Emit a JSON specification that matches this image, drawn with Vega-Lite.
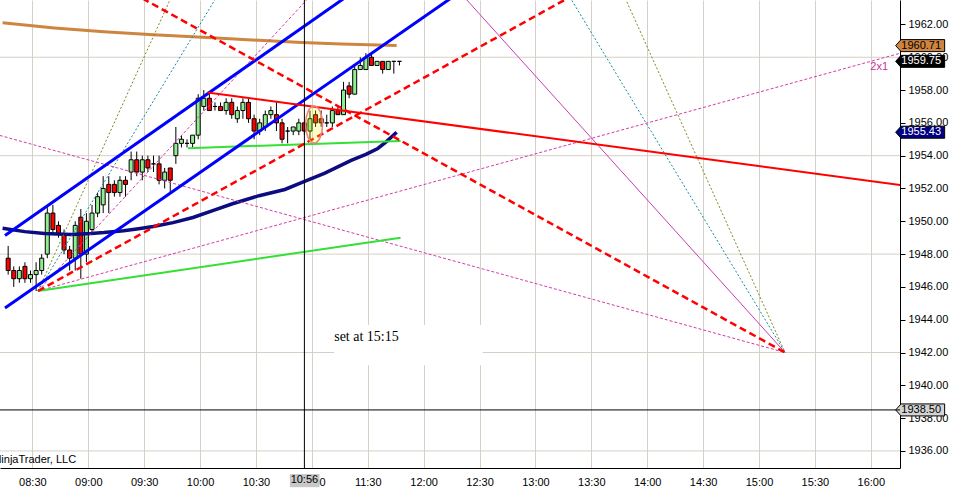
{
  "$schema": "https://vega.github.io/schema/vega-lite/v6.json",
  "width": 900,
  "height": 468,
  "autosize": {"type": "none"},
  "padding": {"left": 0, "top": 0, "right": 65, "bottom": 27},
  "background": "white",
  "config": {"view": {"stroke": null}, "font": "Liberation Sans"},
  "datasets": {
    "candles": [
      {"t": "2014-06-02T08:17", "o": 1947.75, "h": 1948.5, "l": 1946.75, "c": 1947.0},
      {"t": "2014-06-02T08:20", "o": 1947.0, "h": 1947.25, "l": 1946.0, "c": 1946.5},
      {"t": "2014-06-02T08:23", "o": 1946.5, "h": 1947.25, "l": 1946.25, "c": 1947.0},
      {"t": "2014-06-02T08:26", "o": 1947.25, "h": 1947.5, "l": 1946.25, "c": 1946.5},
      {"t": "2014-06-02T08:29", "o": 1946.5, "h": 1947.0, "l": 1946.25, "c": 1946.75},
      {"t": "2014-06-02T08:32", "o": 1946.75, "h": 1947.5, "l": 1945.75, "c": 1947.0},
      {"t": "2014-06-02T08:35", "o": 1947.0, "h": 1948.0, "l": 1946.75, "c": 1947.75},
      {"t": "2014-06-02T08:38", "o": 1948.0, "h": 1951.0, "l": 1947.75, "c": 1950.5},
      {"t": "2014-06-02T08:41", "o": 1950.5, "h": 1951.0, "l": 1949.25, "c": 1949.5},
      {"t": "2014-06-02T08:44", "o": 1949.75, "h": 1950.0, "l": 1949.0, "c": 1949.25},
      {"t": "2014-06-02T08:47", "o": 1949.25, "h": 1949.5, "l": 1948.0, "c": 1948.25},
      {"t": "2014-06-02T08:50", "o": 1948.25, "h": 1948.5, "l": 1947.0, "c": 1947.75},
      {"t": "2014-06-02T08:53", "o": 1947.75, "h": 1950.0, "l": 1947.0, "c": 1949.75},
      {"t": "2014-06-02T08:56", "o": 1950.25, "h": 1950.75, "l": 1946.5, "c": 1948.0},
      {"t": "2014-06-02T08:59", "o": 1948.0, "h": 1950.5, "l": 1947.5, "c": 1950.0},
      {"t": "2014-06-02T09:02", "o": 1949.5, "h": 1951.0, "l": 1949.25, "c": 1950.5},
      {"t": "2014-06-02T09:05", "o": 1950.5, "h": 1951.75, "l": 1950.25, "c": 1951.5},
      {"t": "2014-06-02T09:08", "o": 1951.0, "h": 1952.75, "l": 1950.5, "c": 1952.0},
      {"t": "2014-06-02T09:11", "o": 1952.25, "h": 1952.75, "l": 1950.5, "c": 1951.75},
      {"t": "2014-06-02T09:14", "o": 1952.25, "h": 1952.5, "l": 1951.5, "c": 1951.75},
      {"t": "2014-06-02T09:17", "o": 1951.75, "h": 1952.75, "l": 1951.5, "c": 1952.5},
      {"t": "2014-06-02T09:20", "o": 1952.5, "h": 1952.75, "l": 1951.5, "c": 1952.25},
      {"t": "2014-06-02T09:23", "o": 1953.0, "h": 1954.25, "l": 1952.5, "c": 1953.75},
      {"t": "2014-06-02T09:26", "o": 1953.75, "h": 1954.25, "l": 1952.75, "c": 1953.0},
      {"t": "2014-06-02T09:29", "o": 1953.0, "h": 1954.0, "l": 1952.5, "c": 1953.75},
      {"t": "2014-06-02T09:32", "o": 1953.75, "h": 1954.0, "l": 1953.0, "c": 1953.25},
      {"t": "2014-06-02T09:35", "o": 1953.5, "h": 1954.0, "l": 1953.0, "c": 1953.5},
      {"t": "2014-06-02T09:38", "o": 1953.5, "h": 1954.0, "l": 1952.25, "c": 1952.5},
      {"t": "2014-06-02T09:41", "o": 1952.5, "h": 1953.25, "l": 1952.0, "c": 1953.0},
      {"t": "2014-06-02T09:44", "o": 1953.25, "h": 1953.25, "l": 1951.75, "c": 1952.5},
      {"t": "2014-06-02T09:47", "o": 1954.0, "h": 1955.75, "l": 1953.5, "c": 1954.75},
      {"t": "2014-06-02T09:50", "o": 1954.75, "h": 1955.25, "l": 1954.5, "c": 1955.0},
      {"t": "2014-06-02T09:53", "o": 1954.75, "h": 1955.0, "l": 1954.5, "c": 1954.75},
      {"t": "2014-06-02T09:56", "o": 1954.75, "h": 1955.25, "l": 1954.5, "c": 1955.25},
      {"t": "2014-06-02T09:59", "o": 1955.25, "h": 1957.75, "l": 1955.0, "c": 1957.5},
      {"t": "2014-06-02T10:02", "o": 1957.0, "h": 1958.0, "l": 1956.75, "c": 1957.5},
      {"t": "2014-06-02T10:05", "o": 1957.5, "h": 1957.75, "l": 1956.75, "c": 1956.75},
      {"t": "2014-06-02T10:08", "o": 1957.0, "h": 1957.25, "l": 1956.75, "c": 1957.0},
      {"t": "2014-06-02T10:11", "o": 1957.0, "h": 1957.25, "l": 1956.75, "c": 1956.75},
      {"t": "2014-06-02T10:14", "o": 1956.75, "h": 1957.5, "l": 1956.5, "c": 1957.25},
      {"t": "2014-06-02T10:17", "o": 1957.25, "h": 1957.5, "l": 1956.25, "c": 1956.5},
      {"t": "2014-06-02T10:20", "o": 1956.25, "h": 1957.0, "l": 1956.0, "c": 1956.75},
      {"t": "2014-06-02T10:23", "o": 1956.75, "h": 1957.5, "l": 1956.25, "c": 1957.25},
      {"t": "2014-06-02T10:26", "o": 1957.25, "h": 1957.5, "l": 1956.0, "c": 1956.25},
      {"t": "2014-06-02T10:29", "o": 1956.25, "h": 1956.5, "l": 1955.0, "c": 1955.5},
      {"t": "2014-06-02T10:32", "o": 1955.5, "h": 1956.25, "l": 1955.25, "c": 1956.0},
      {"t": "2014-06-02T10:35", "o": 1955.75, "h": 1956.75, "l": 1955.5, "c": 1956.5},
      {"t": "2014-06-02T10:38", "o": 1956.5, "h": 1957.0, "l": 1956.25, "c": 1956.75},
      {"t": "2014-06-02T10:41", "o": 1956.5, "h": 1957.25, "l": 1955.5, "c": 1956.0},
      {"t": "2014-06-02T10:44", "o": 1956.0, "h": 1956.25, "l": 1954.75, "c": 1955.0},
      {"t": "2014-06-02T10:47", "o": 1955.5, "h": 1955.75, "l": 1954.75, "c": 1955.5},
      {"t": "2014-06-02T10:50", "o": 1955.5, "h": 1955.75, "l": 1955.25, "c": 1955.75},
      {"t": "2014-06-02T10:53", "o": 1955.5, "h": 1956.25, "l": 1955.25, "c": 1956.0},
      {"t": "2014-06-02T10:56", "o": 1956.0, "h": 1956.0, "l": 1955.25, "c": 1955.5},
      {"t": "2014-06-02T10:59", "o": 1955.5, "h": 1956.75, "l": 1955.0, "c": 1956.25},
      {"t": "2014-06-02T11:02", "o": 1956.5, "h": 1956.75, "l": 1955.75, "c": 1956.0},
      {"t": "2014-06-02T11:05", "o": 1956.25, "h": 1956.75, "l": 1955.75, "c": 1956.0},
      {"t": "2014-06-02T11:08", "o": 1956.0, "h": 1956.5, "l": 1955.75, "c": 1956.0},
      {"t": "2014-06-02T11:11", "o": 1956.0, "h": 1957.0, "l": 1955.75, "c": 1956.75},
      {"t": "2014-06-02T11:14", "o": 1956.75, "h": 1957.0, "l": 1956.5, "c": 1956.5},
      {"t": "2014-06-02T11:17", "o": 1956.5, "h": 1958.5, "l": 1956.5, "c": 1958.0},
      {"t": "2014-06-02T11:20", "o": 1958.25, "h": 1958.5, "l": 1957.5, "c": 1957.75},
      {"t": "2014-06-02T11:23", "o": 1957.75, "h": 1959.5, "l": 1957.75, "c": 1959.25},
      {"t": "2014-06-02T11:26", "o": 1959.25, "h": 1960.0, "l": 1959.25, "c": 1959.5},
      {"t": "2014-06-02T11:29", "o": 1959.25, "h": 1960.25, "l": 1959.25, "c": 1960.0},
      {"t": "2014-06-02T11:32", "o": 1960.0, "h": 1960.25, "l": 1959.5, "c": 1959.5},
      {"t": "2014-06-02T11:35", "o": 1959.5, "h": 1959.75, "l": 1959.5, "c": 1959.75},
      {"t": "2014-06-02T11:38", "o": 1959.75, "h": 1959.75, "l": 1959.0, "c": 1959.25},
      {"t": "2014-06-02T11:41", "o": 1959.25, "h": 1959.75, "l": 1959.25, "c": 1959.75},
      {"t": "2014-06-02T11:44", "o": 1959.75, "h": 1959.75, "l": 1959.0, "c": 1959.75},
      {"t": "2014-06-02T11:47", "o": 1959.75, "h": 1959.75, "l": 1959.5, "c": 1959.75}
    ],
    "ma": [
      {"s": "sma", "t": "2014-06-02T08:14:00", "p": 1962.1},
      {"s": "sma", "t": "2014-06-02T08:41:48", "p": 1961.79},
      {"s": "sma", "t": "2014-06-02T09:08:24", "p": 1961.56},
      {"s": "sma", "t": "2014-06-02T09:34:54", "p": 1961.37},
      {"s": "sma", "t": "2014-06-02T10:01:30", "p": 1961.22},
      {"s": "sma", "t": "2014-06-02T10:28:00", "p": 1961.05},
      {"s": "sma", "t": "2014-06-02T10:54:30", "p": 1960.9},
      {"s": "sma", "t": "2014-06-02T11:15:48", "p": 1960.81},
      {"s": "sma", "t": "2014-06-02T11:45:30", "p": 1960.71},
      {"s": "ema", "t": "2014-06-02T08:14:00", "p": 1949.57},
      {"s": "ema", "t": "2014-06-02T08:25:54", "p": 1949.37},
      {"s": "ema", "t": "2014-06-02T08:36:30", "p": 1949.25},
      {"s": "ema", "t": "2014-06-02T08:50:54", "p": 1949.19},
      {"s": "ema", "t": "2014-06-02T09:01:30", "p": 1949.25},
      {"s": "ema", "t": "2014-06-02T09:08:24", "p": 1949.31},
      {"s": "ema", "t": "2014-06-02T09:19:00", "p": 1949.43},
      {"s": "ema", "t": "2014-06-02T09:27:00", "p": 1949.55},
      {"s": "ema", "t": "2014-06-02T09:34:54", "p": 1949.68},
      {"s": "ema", "t": "2014-06-02T09:45:30", "p": 1949.92},
      {"s": "ema", "t": "2014-06-02T09:56:12", "p": 1950.23},
      {"s": "ema", "t": "2014-06-02T10:06:48", "p": 1950.65},
      {"s": "ema", "t": "2014-06-02T10:17:24", "p": 1951.07},
      {"s": "ema", "t": "2014-06-02T10:31:42", "p": 1951.56},
      {"s": "ema", "t": "2014-06-02T10:45:30", "p": 1951.94},
      {"s": "ema", "t": "2014-06-02T10:56:06", "p": 1952.43},
      {"s": "ema", "t": "2014-06-02T11:06:42", "p": 1952.92},
      {"s": "ema", "t": "2014-06-02T11:21:06", "p": 1953.71},
      {"s": "ema", "t": "2014-06-02T11:29:00", "p": 1954.08},
      {"s": "ema", "t": "2014-06-02T11:35:24", "p": 1954.44},
      {"s": "ema", "t": "2014-06-02T11:40:12", "p": 1954.87},
      {"s": "ema", "t": "2014-06-02T11:45:30", "p": 1955.43}
    ],
    "lines": [
      {"id": "blueU", "g": "blue", "t": "2014-06-02T08:15:18", "p": 1949.13},
      {"id": "blueU", "g": "blue", "t": "2014-06-02T11:47:36", "p": 1966.0},
      {"id": "blueL", "g": "blue", "t": "2014-06-02T08:15:18", "p": 1944.72},
      {"id": "blueL", "g": "blue", "t": "2014-06-02T12:30:06", "p": 1964.82},
      {"id": "redA", "g": "reddash", "t": "2014-06-02T09:08:24", "p": 1964.88},
      {"id": "redA", "g": "reddash", "t": "2014-06-02T15:14:00", "p": 1942.0},
      {"id": "redB", "g": "reddash", "t": "2014-06-02T08:33:00", "p": 1945.75},
      {"id": "redB", "g": "reddash", "t": "2014-06-02T13:33:48", "p": 1964.63},
      {"id": "redS", "g": "redsolid", "t": "2014-06-02T10:04:00", "p": 1957.85},
      {"id": "redS", "g": "redsolid", "t": "2014-06-02T16:30:00", "p": 1952.0},
      {"id": "greenU", "g": "green", "t": "2014-06-02T09:53:30", "p": 1954.46},
      {"id": "greenU", "g": "green", "t": "2014-06-02T11:47:36", "p": 1954.89},
      {"id": "greenL", "g": "green", "t": "2014-06-02T08:33:00", "p": 1945.75},
      {"id": "greenL", "g": "green", "t": "2014-06-02T11:47:36", "p": 1949.0},
      {"id": "pinkSteep", "g": "pinkdot", "t": "2014-06-02T08:33:00", "p": 1945.75},
      {"id": "pinkSteep", "g": "pinkdot", "t": "2014-06-02T11:07:06", "p": 1964.71},
      {"id": "pink2x1", "g": "pinkdot", "t": "2014-06-02T08:33:00", "p": 1945.75},
      {"id": "pink2x1", "g": "pinkdot", "t": "2014-06-02T16:23:36", "p": 1960.49},
      {"id": "pinkDown", "g": "pinkdot", "t": "2014-06-02T08:04:42", "p": 1955.48},
      {"id": "pinkDown", "g": "pinkdot", "t": "2014-06-02T15:14:00", "p": 1942.0},
      {"id": "pinkApex", "g": "pinksolid", "t": "2014-06-02T15:14:00", "p": 1942.0},
      {"id": "pinkApex", "g": "pinksolid", "t": "2014-06-02T12:13:30", "p": 1964.71},
      {"id": "tealO", "g": "teal", "t": "2014-06-02T08:33:00", "p": 1945.75},
      {"id": "tealO", "g": "teal", "t": "2014-06-02T10:14:24", "p": 1964.71},
      {"id": "tealA", "g": "teal", "t": "2014-06-02T15:14:00", "p": 1942.0},
      {"id": "tealA", "g": "teal", "t": "2014-06-02T13:12:54", "p": 1964.71},
      {"id": "oliveO", "g": "olive", "t": "2014-06-02T08:33:00", "p": 1945.75},
      {"id": "oliveO", "g": "olive", "t": "2014-06-02T09:48:42", "p": 1964.71},
      {"id": "oliveA", "g": "olive", "t": "2014-06-02T15:14:00", "p": 1942.0},
      {"id": "oliveA", "g": "olive", "t": "2014-06-02T13:43:48", "p": 1964.71}
    ],
    "notes": [
      {"k": "box", "t": "2014-06-02T11:12:00", "p": 1942.7, "label": "set at 15:15"},
      {"k": "fan", "t": "2014-06-02T16:04:30", "p": 1959.4, "label": "2x1"},
      {"k": "copy", "t": "2014-06-02T08:53:30", "p": 1935.26, "label": "© 2014 NinjaTrader, LLC"},
      {"k": "cursor", "t": "2014-06-02T10:56:00", "p": 1934.2, "label": "10:56"},
      {"k": "cursorline", "t": "2014-06-02T10:56:00", "p": 1938.5, "label": ""},
      {"k": "ellipse", "t": "2014-06-02T11:01:12", "p": 1955.9, "label": ""}
    ],
    "boxes": [
      {"k": "white", "t1": "2014-06-02T11:12:00", "t2": "2014-06-02T12:31:42", "p1": 1943.67, "p2": 1941.23},
      {"k": "gray", "t1": "2014-06-02T10:48:12", "t2": "2014-06-02T11:04:06", "p1": 1934.59, "p2": 1933.79}
    ],
    "hgrid": [{"p": 1936}, {"p": 1942}, {"p": 1948}, {"p": 1954}, {"p": 1960}],
    "tags": [
      {"name": "sma", "t": "2014-06-02T16:26:30", "p": 1960.71, "label": "1960.71"},
      {"name": "last", "t": "2014-06-02T16:26:30", "p": 1959.75, "label": "1959.75"},
      {"name": "ema", "t": "2014-06-02T16:26:30", "p": 1955.43, "label": "1955.43"},
      {"name": "cursor", "t": "2014-06-02T16:26:30", "p": 1938.5, "label": "1938.50"}
    ]
  },
  "layer": [
    {
      "data": {"name": "hgrid"},
      "mark": {"type": "rule", "color": "#D4D0C8", "strokeWidth": 1},
      "encoding": {
        "y": {"field": "p", "type": "quantitative", "axis": {"orient": "right", "title": null, "zindex": 0, "values": [1936, 1938, 1940, 1942, 1944, 1946, 1948, 1950, 1952, 1954, 1956, 1958, 1960, 1962], "format": ".2f", "grid": false, "tickSize": 5, "tickColor": "black", "domainColor": "black", "labelFontSize": 11, "labelColor": "black", "labelPadding": 3, "labelOverlap": false}}
      }
    },
    {
      "encoding": {
        "x": {
          "field": "t", "type": "temporal",
          "scale": {"domain": [{"year": 2014, "month": 6, "date": 2, "hours": 8, "minutes": 15, "seconds": 18}, {"year": 2014, "month": 6, "date": 2, "hours": 16, "minutes": 13, "seconds": 0}], "nice": false},
          "axis": {"title": null, "orient": "bottom", "zindex": 0, "format": "%H:%M", "tickCount": 15, "grid": true, "gridColor": "#D4D0C8", "ticks": false, "domainColor": "black", "labelFontSize": 11, "labelColor": "black", "labelPadding": 8, "labelOverlap": false}
        },
        "y": {
          "field": "p", "type": "quantitative",
          "scale": {"domain": [1934.96, 1963.49], "nice": false, "zero": false},
          "axis": {"orient": "right", "title": null, "zindex": 0, "values": [1936, 1938, 1940, 1942, 1944, 1946, 1948, 1950, 1952, 1954, 1956, 1958, 1960, 1962], "format": ".2f", "grid": false, "tickSize": 5, "tickColor": "black", "domainColor": "black", "labelFontSize": 11, "labelColor": "black", "labelPadding": 3, "labelOverlap": false}
        }
      },
      "layer": [
        {
          "data": {"name": "boxes"},
          "transform": [{"filter": "datum.k === 'white'"}],
          "mark": {"type": "rect", "fill": "white"},
          "encoding": {
            "x": {"field": "t1", "type": "temporal", "axis": {"title": null, "orient": "bottom", "zindex": 0, "format": "%H:%M", "tickCount": 15, "grid": true, "gridColor": "#D4D0C8", "ticks": false, "domainColor": "black", "labelFontSize": 11, "labelColor": "black", "labelPadding": 8, "labelOverlap": false}},
            "x2": {"field": "t2"},
            "y": {"field": "p1", "type": "quantitative", "axis": {"orient": "right", "title": null, "zindex": 0, "values": [1936, 1938, 1940, 1942, 1944, 1946, 1948, 1950, 1952, 1954, 1956, 1958, 1960, 1962], "format": ".2f", "grid": false, "tickSize": 5, "tickColor": "black", "domainColor": "black", "labelFontSize": 11, "labelColor": "black", "labelPadding": 3, "labelOverlap": false}},
            "y2": {"field": "p2"}
          }
        },
        {
          "data": {"name": "candles"},
          "mark": {"type": "rule", "color": "black", "strokeWidth": 1},
          "encoding": {
            "y": {"field": "l", "type": "quantitative", "axis": {"orient": "right", "title": null, "zindex": 0, "values": [1936, 1938, 1940, 1942, 1944, 1946, 1948, 1950, 1952, 1954, 1956, 1958, 1960, 1962], "format": ".2f", "grid": false, "tickSize": 5, "tickColor": "black", "domainColor": "black", "labelFontSize": 11, "labelColor": "black", "labelPadding": 3, "labelOverlap": false}},
            "y2": {"field": "h"}
          }
        },
        {
          "data": {"name": "candles"},
          "mark": {"type": "bar", "size": 4, "stroke": "black", "strokeWidth": 1},
          "encoding": {
            "y": {"field": "o", "type": "quantitative", "axis": {"orient": "right", "title": null, "zindex": 0, "values": [1936, 1938, 1940, 1942, 1944, 1946, 1948, 1950, 1952, 1954, 1956, 1958, 1960, 1962], "format": ".2f", "grid": false, "tickSize": 5, "tickColor": "black", "domainColor": "black", "labelFontSize": 11, "labelColor": "black", "labelPadding": 3, "labelOverlap": false}},
            "y2": {"field": "c"},
            "fill": {"condition": {"test": "datum.c > datum.o", "value": "#90EE90"}, "value": "#FF0000"}
          }
        },
        {
          "data": {"name": "ma"},
          "transform": [{"filter": "datum.s === 'sma'"}],
          "mark": {"type": "line", "clip": true, "color": "#CD853F", "strokeWidth": 3}
        },
        {
          "data": {"name": "ma"},
          "transform": [{"filter": "datum.s === 'ema'"}],
          "mark": {"type": "line", "clip": true, "color": "#0C0C80", "strokeWidth": 3.5}
        },
        {
          "data": {"name": "lines"},
          "transform": [{"filter": "datum.g === 'olive'"}],
          "mark": {"type": "line", "clip": true, "color": "#7A8A1E", "strokeWidth": 1, "strokeDash": [2, 2]},
          "encoding": {"detail": {"field": "id"}}
        },
        {
          "data": {"name": "lines"},
          "transform": [{"filter": "datum.g === 'teal'"}],
          "mark": {"type": "line", "clip": true, "color": "#108C9C", "strokeWidth": 1, "strokeDash": [2, 2]},
          "encoding": {"detail": {"field": "id"}}
        },
        {
          "data": {"name": "lines"},
          "transform": [{"filter": "datum.g === 'pinkdot'"}],
          "mark": {"type": "line", "clip": true, "color": "#D63AA8", "strokeWidth": 1, "strokeDash": [3, 2]},
          "encoding": {"detail": {"field": "id"}}
        },
        {
          "data": {"name": "lines"},
          "transform": [{"filter": "datum.g === 'pinksolid'"}],
          "mark": {"type": "line", "clip": true, "color": "#C83CB4", "strokeWidth": 1},
          "encoding": {"detail": {"field": "id"}}
        },
        {
          "data": {"name": "lines"},
          "transform": [{"filter": "datum.g === 'green'"}],
          "mark": {"type": "line", "clip": true, "color": "#33E033", "strokeWidth": 2},
          "encoding": {"detail": {"field": "id"}}
        },
        {
          "data": {"name": "lines"},
          "transform": [{"filter": "datum.g === 'blue'"}],
          "mark": {"type": "line", "clip": true, "color": "#0000FF", "strokeWidth": 3},
          "encoding": {"detail": {"field": "id"}}
        },
        {
          "data": {"name": "lines"},
          "transform": [{"filter": "datum.g === 'reddash'"}],
          "mark": {"type": "line", "clip": true, "color": "#FF0000", "strokeWidth": 2.5, "strokeDash": [7, 4]},
          "encoding": {"detail": {"field": "id"}}
        },
        {
          "data": {"name": "lines"},
          "transform": [{"filter": "datum.g === 'redsolid'"}],
          "mark": {"type": "line", "clip": true, "color": "#FF0000", "strokeWidth": 2},
          "encoding": {"detail": {"field": "id"}}
        },
        {
          "data": {"name": "notes"},
          "transform": [{"filter": "datum.k === 'ellipse'"}],
          "mark": {"type": "point", "shape": "M0,-1C0.254,-1,0.46,-0.552,0.46,0C0.46,0.552,0.254,1,0,1C-0.254,1,-0.46,0.552,-0.46,0C-0.46,-0.552,-0.254,-1,0,-1Z", "size": 1369, "fill": "#FFFF00", "fillOpacity": 0.22, "stroke": "#F08080", "strokeWidth": 1.5, "opacity": 1}
        },
        {
          "data": {"name": "notes"},
          "transform": [{"filter": "datum.k === 'box'"}],
          "mark": {"type": "text", "font": "Liberation Serif", "fontSize": 14, "align": "left", "baseline": "alphabetic", "color": "black"},
          "encoding": {"text": {"field": "label"}}
        },
        {
          "data": {"name": "notes"},
          "transform": [{"filter": "datum.k === 'fan'"}],
          "mark": {"type": "text", "fontSize": 11, "align": "center", "baseline": "middle", "color": "#C8329A"},
          "encoding": {"text": {"field": "label"}}
        },
        {
          "data": {"name": "notes"},
          "transform": [{"filter": "datum.k === 'copy'"}],
          "mark": {"type": "text", "fontSize": 11, "align": "right", "baseline": "alphabetic", "color": "black"},
          "encoding": {"text": {"field": "label"}}
        },
        {
          "data": {"name": "boxes"},
          "transform": [{"filter": "datum.k === 'gray'"}],
          "mark": {"type": "rect", "fill": "#C8C8C8"},
          "encoding": {
            "x": {"field": "t1", "type": "temporal", "axis": {"title": null, "orient": "bottom", "zindex": 0, "format": "%H:%M", "tickCount": 15, "grid": true, "gridColor": "#D4D0C8", "ticks": false, "domainColor": "black", "labelFontSize": 11, "labelColor": "black", "labelPadding": 8, "labelOverlap": false}},
            "x2": {"field": "t2"},
            "y": {"field": "p1", "type": "quantitative", "axis": {"orient": "right", "title": null, "zindex": 0, "values": [1936, 1938, 1940, 1942, 1944, 1946, 1948, 1950, 1952, 1954, 1956, 1958, 1960, 1962], "format": ".2f", "grid": false, "tickSize": 5, "tickColor": "black", "domainColor": "black", "labelFontSize": 11, "labelColor": "black", "labelPadding": 3, "labelOverlap": false}},
            "y2": {"field": "p2"}
          }
        },
        {
          "data": {"name": "notes"},
          "transform": [{"filter": "datum.k === 'cursor'"}],
          "mark": {"type": "text", "fontSize": 11, "align": "center", "baseline": "middle", "color": "black"},
          "encoding": {"text": {"field": "label"}}
        },
        {
          "data": {"name": "tags"},
          "mark": {"type": "point", "shape": "M-1,0L-0.78,-0.245L1,-0.245L1,0.245L-0.78,0.245Z", "size": 2401, "filled": true, "opacity": 1, "stroke": "black", "strokeWidth": 1},
          "encoding": {
            "fill": {"field": "name", "type": "nominal", "scale": {"domain": ["sma", "last", "ema", "cursor"], "range": ["#CD853F", "#000000", "#000080", "#D3D3D3"]}, "legend": null}
          }
        },
        {
          "data": {"name": "tags"},
          "mark": {"type": "text", "fontSize": 11, "align": "center", "baseline": "middle", "dx": 1},
          "encoding": {
            "text": {"field": "label"},
            "color": {"field": "name", "type": "nominal", "scale": {"domain": ["sma", "last", "ema", "cursor"], "range": ["#000000", "#FFFFFF", "#FFFFFF", "#000000"]}, "legend": null}
          }
        }
      ]
    },
    {
      "data": {"name": "notes"},
      "transform": [{"filter": "datum.k === 'cursorline'"}],
      "mark": {"type": "rule", "color": "black", "strokeWidth": 1},
      "encoding": {
        "x": {"field": "t", "type": "temporal", "axis": {"title": null, "orient": "bottom", "zindex": 0, "format": "%H:%M", "tickCount": 15, "grid": true, "gridColor": "#D4D0C8", "ticks": false, "domainColor": "black", "labelFontSize": 11, "labelColor": "black", "labelPadding": 8, "labelOverlap": false}}
      }
    },
    {
      "data": {"name": "notes"},
      "transform": [{"filter": "datum.k === 'cursorline'"}],
      "mark": {"type": "rule", "color": "black", "strokeWidth": 1},
      "encoding": {
        "y": {"field": "p", "type": "quantitative", "axis": {"orient": "right", "title": null, "zindex": 0, "values": [1936, 1938, 1940, 1942, 1944, 1946, 1948, 1950, 1952, 1954, 1956, 1958, 1960, 1962], "format": ".2f", "grid": false, "tickSize": 5, "tickColor": "black", "domainColor": "black", "labelFontSize": 11, "labelColor": "black", "labelPadding": 3, "labelOverlap": false}}
      }
    }
  ]
}
